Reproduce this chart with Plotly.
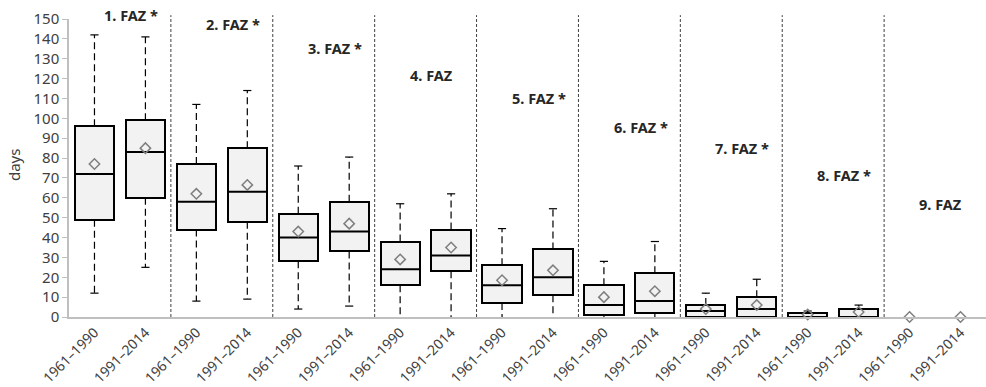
import plotly.graph_objects as go

# Frost-free period lengths (days) per zone and reference period
zones = ["1. FAZ *", "2. FAZ *", "3. FAZ *", "4. FAZ", "5. FAZ *",
         "6. FAZ *", "7. FAZ *", "8. FAZ *", "9. FAZ"]
periods = ["1961–1990", "1991–2014"]

upper  = [142, 141, 107, 114, 76, 80.5, 57, 62, 44.5, 54.5, 28, 38, 12, 19, 3, 6, 0, 0]
q3     = [96, 99, 77, 85, 52, 58, 38, 44, 26, 34, 16, 22, 6, 10, 2, 4, 0, 0]
median = [72, 83, 58, 63, 40, 43, 24, 31, 16, 20, 6, 8, 3, 4, 0, 0, 0, 0]
q1     = [49, 60, 44, 48, 28, 33, 16, 23, 7, 11, 1, 2, 0, 0, 0, 0, 0, 0]
lower  = [12, 25, 8, 9, 4, 5.5, 0, 0, 0, 0, 0, 0, 0, 0, 0, 0, 0, 0]
mean   = [77, 85, 62, 66.5, 43, 47, 29, 35, 18.5, 23.5, 10, 13, 4, 6, 1.3, 2.5, 0, 0]

# zone label heights (days)
zone_label_y = [152, 147.5, 135.5, 122, 110, 95.5, 85, 71.5, 57]

Y_MAX = 150
n = len(q3)
idx = list(range(n))
tick_text = [periods[i % 2] for i in idx]

BOX_W = 0.77
CAP_W = 0.08
FONT = "Noto Sans"

fig = go.Figure()

# whiskers (dashed) and caps
wx, wy, cx, cy = [], [], [], []
for i in idx:
    for a, b in ((q3[i], upper[i]), (q1[i], lower[i])):
        if a != b:
            wx += [i, i, None]
            wy += [a, b, None]
            if b > 0:
                cx += [i - CAP_W, i + CAP_W, None]
                cy += [b, b, None]
fig.add_trace(go.Scatter(x=wx, y=wy, mode="lines",
                         line=dict(color="black", width=1.2, dash="7px,4px"),
                         hoverinfo="skip", showlegend=False))
fig.add_trace(go.Scatter(x=cx, y=cy, mode="lines",
                         line=dict(color="black", width=1.2),
                         hoverinfo="skip", showlegend=False))

# boxes: interquartile range
bi = [i for i in idx if q3[i] > q1[i]]
fig.add_trace(go.Bar(x=bi, y=[q3[i] - q1[i] for i in bi], base=[q1[i] for i in bi],
                     width=BOX_W,
                     marker=dict(color="#f2f2f2", line=dict(color="black", width=2)),
                     showlegend=False))

# medians
mx, my = [], []
for i in bi:
    mx += [i - BOX_W / 2, i + BOX_W / 2, None]
    my += [median[i], median[i], None]
fig.add_trace(go.Scatter(x=mx, y=my, mode="lines",
                         line=dict(color="black", width=2),
                         hoverinfo="skip", showlegend=False))

# means
fig.add_trace(go.Scatter(x=idx, y=mean, mode="markers",
                         marker=dict(symbol="diamond-open", size=8, color="#7f7f7f",
                                     line=dict(width=1.5)),
                         cliponaxis=False, showlegend=False))

# dotted separators between zones
for k in range(1, len(zones)):
    fig.add_shape(type="line", xref="x", yref="paper",
                  x0=2 * k - 0.5, x1=2 * k - 0.5, y0=0, y1=1.013,
                  line=dict(color="#404040", width=1, dash="3px,2px"))

# zone labels
for k, (z, zy) in enumerate(zip(zones, zone_label_y)):
    fig.add_annotation(x=2 * k + 0.15, xref="x", y=zy / Y_MAX, yref="paper",
                       text=f"<b>{z}</b>", showarrow=False,
                       xanchor="left", yanchor="middle",
                       font=dict(family=FONT, size=14.5, color="#262626"))

# y-axis title
fig.add_annotation(xref="paper", yref="paper", x=0, y=0.51, xshift=-55,
                   text="days", textangle=-90, showarrow=False,
                   xanchor="center", yanchor="middle",
                   font=dict(family=FONT, size=15, color="#404040"))

fig.update_layout(
    width=986, height=387,
    margin=dict(l=69, r=0, t=19, b=68),
    plot_bgcolor="white", paper_bgcolor="white",
    font=dict(family=FONT, color="#404040"),
    bargap=0,
    xaxis=dict(range=[-0.5, n - 0.5], tickmode="array", tickvals=idx, ticktext=tick_text,
               tickangle=-45, tickfont=dict(size=14, color="#404040"),
               showgrid=False, zeroline=False, showline=True,
               linecolor="#bfbfbf", linewidth=1.5, ticks=""),
    yaxis=dict(range=[0, Y_MAX], tickmode="linear", tick0=0, dtick=10,
               tickfont=dict(size=15, color="#404040"),
               showgrid=False, zeroline=False, showline=True,
               linecolor="#bfbfbf", linewidth=1.5,
               ticks="outside", ticklen=5, tickcolor="#bfbfbf"),
)

fig.write_html("out.html")
